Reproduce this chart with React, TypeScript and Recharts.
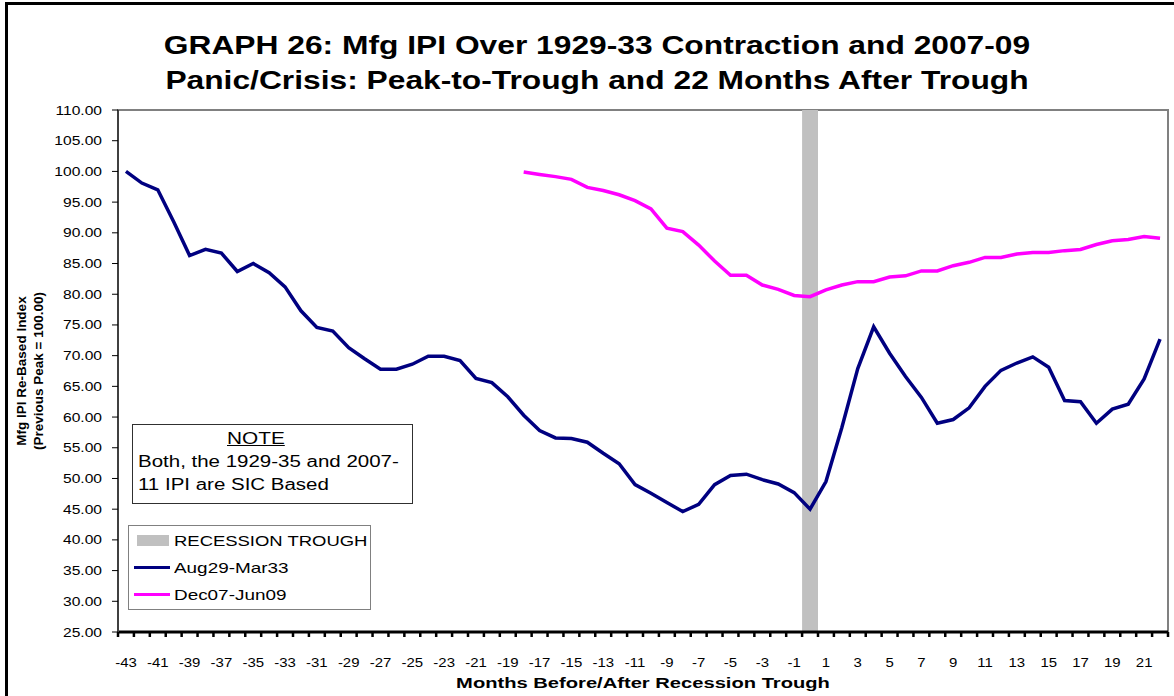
import {
  LineChart,
  Line,
  XAxis,
  YAxis,
  ReferenceArea,
  Legend,
} from "recharts";

const months = Array.from({ length: 66 }, (_, i) => i - 43);

const aug29Mar33 = [
  100.0, 98.1, 97.0, 91.8, 86.3, 87.3, 86.7, 83.7, 85.0, 83.5, 81.2, 77.3, 74.6,
  74.0, 71.3, 69.5, 67.8, 67.8, 68.6, 69.9, 69.9, 69.2, 66.3, 65.6, 63.3, 60.3,
  57.8, 56.6, 56.5, 55.9, 54.1, 52.4, 49.0, 47.6, 46.1, 44.6, 45.8, 49.0, 50.5,
  50.7, 49.8, 49.1, 47.7, 45.0, 49.5, 58.3, 67.9, 74.7, 70.4, 66.6, 63.2, 59.0,
  59.6, 61.5, 65.0, 67.6, 68.8, 69.8, 68.1, 62.7, 62.5, 59.0, 61.3, 62.1, 66.2,
  72.7,
];

// 2007-09 series starts 18 months before the trough
const dec07Jun09 = [
  99.9, 99.5, 99.15, 98.7, 97.4, 96.9, 96.2, 95.25, 93.9, 90.75, 90.2, 88.0, 85.4,
  83.1, 83.1, 81.5, 80.8, 79.8, 79.6, 80.7, 81.5, 82.05, 82.05, 82.8, 83.0, 83.8,
  83.8, 84.65, 85.2, 86.0, 86.0, 86.55, 86.8, 86.8, 87.1, 87.3, 88.1, 88.7, 88.9,
  89.4, 89.1,
];
const dec07Start = -18;

const yTicks = [25, 30, 35, 40, 45, 50, 55, 60, 65, 70, 75, 80, 85, 90, 95, 100, 105, 110];
// labels on every other month, tick marks between months
const xLabelTicks = months.filter((m) => m % 2 !== 0 && m < 22);
const xMarkTicks = [...months.map((m) => m - 0.5), 22.5];
const xTicks = [...xMarkTicks, ...xLabelTicks].sort((a, b) => a - b);

const data = months.map((m, i) => ({
  month: m,
  old: aug29Mar33[i],
  recent: m >= dec07Start ? dec07Jun09[m - dec07Start] : null,
}));

const FONT = "Arial, 'Liberation Sans', sans-serif";

function YTick({ x, y, payload }: any) {
  return (
    <text
      transform={`translate(${x}, ${y}) scale(1.2, 1)`}
      textAnchor="end"
      dy="0.35em"
      fontSize={13}
      fontFamily={FONT}
      fill="#000"
    >
      {Number(payload.value).toFixed(2)}
    </text>
  );
}

function XTick({ x, y, payload }: any) {
  const v = payload.value;
  if (!Number.isInteger(v)) {
    return <line x1={x} y1={y} x2={x} y2={y + 5} stroke="#000" strokeWidth={2.5} />;
  }
  return (
    <text
      transform={`translate(${x}, ${y + 26}) scale(1.15, 1)`}
      textAnchor="middle"
      dy="0.71em"
      fontSize={13}
      fontFamily={FONT}
      fill="#000"
    >
      {v}
    </text>
  );
}

const wide = (k: number): React.CSSProperties => ({
  display: "inline-block",
  transform: `scaleX(${k})`,
  transformOrigin: "left center",
  whiteSpace: "nowrap",
});

function LegendBox() {
  const row: React.CSSProperties = { display: "flex", alignItems: "center", height: 27 };
  return (
    <div
      style={{
        width: 243,
        height: 85,
        border: "1.5px solid #808080",
        background: "#fff",
        fontFamily: FONT,
        fontSize: 15,
        color: "#000",
        boxSizing: "border-box",
        padding: "1px 0 0 4px",
      }}
    >
      <div style={row}>
        <span style={{ width: 32, height: 11, background: "#c0c0c0", margin: "0 5px 0 4px" }} />
        <span style={wide(1.23)}>RECESSION TROUGH</span>
      </div>
      <div style={row}>
        <span style={{ width: 36, height: 3.5, background: "#000080", margin: "0 4px 0 1px" }} />
        <span style={wide(1.26)}>Aug29-Mar33</span>
      </div>
      <div style={row}>
        <span style={{ width: 36, height: 3.5, background: "#ff00ff", margin: "0 4px 0 1px" }} />
        <span style={wide(1.26)}>Dec07-Jun09</span>
      </div>
    </div>
  );
}

export default function App() {
  return (
    <div
      style={{
        position: "absolute",
        left: 0,
        top: 0,
        width: 1174,
        height: 696,
        overflow: "hidden",
        background: "#fff",
        fontFamily: FONT,
      }}
    >
      <div
        style={{
          position: "absolute",
          left: 5,
          top: 2,
          width: 1200,
          height: 720,
          borderLeft: "3px solid #000",
          borderTop: "3px solid #000",
        }}
      />
      <div
        style={{
          position: "absolute",
          left: 0,
          top: 28,
          width: 1194,
          textAlign: "center",
          fontWeight: "bold",
          fontSize: 25,
          lineHeight: "35px",
          color: "#000",
          transform: "scaleX(1.27)",
          transformOrigin: "597px 0",
        }}
      >
        GRAPH 26: Mfg IPI Over 1929-33 Contraction and 2007-09
        <br />
        Panic/Crisis: Peak-to-Trough and 22 Months After Trough
      </div>
      <div style={{ position: "absolute", left: 0, top: 0 }}>
        <LineChart width={1174} height={696} data={data} margin={{ top: 110, right: 6, bottom: 0, left: 0 }}>
          <ReferenceArea
            x1={-43.5}
            x2={22.5}
            y1={25}
            y2={110}
            fill="none"
            stroke="#808080"
            strokeWidth={2}
            ifOverflow="visible"
          />
          <ReferenceArea x1={-0.5} x2={0.5} y1={25} y2={110} fill="#c0c0c0" fillOpacity={1} />
          <XAxis
            dataKey="month"
            type="number"
            domain={[-43.5, 22.5]}
            ticks={xTicks}
            interval={0}
            height={64}
            tickSize={0}
            tickMargin={0}
            tickLine={false}
            axisLine={{ stroke: "#000", strokeWidth: 3 }}
            tick={<XTick />}
            label={{
              content: ({ viewBox }: any) => (
                <text
                  transform={`translate(${viewBox.x + viewBox.width / 2}, ${viewBox.y + viewBox.height - 8}) scale(1.3, 1)`}
                  textAnchor="middle"
                  fontSize={15.5}
                  fontWeight="bold"
                  fontFamily={FONT}
                  fill="#000"
                >
                  Months Before/After Recession Trough
                </text>
              ),
            }}
          />
          <YAxis
            type="number"
            domain={[25, 110]}
            ticks={yTicks}
            interval={0}
            width={118}
            tick={<YTick />}
            tickSize={6}
            tickMargin={10}
            tickLine={{ stroke: "#000" }}
            axisLine={{ stroke: "#404040", strokeWidth: 2 }}
            label={{
              content: ({ viewBox }: any) => {
                const cy = viewBox.y + viewBox.height / 2;
                return (
                  <g fontFamily={FONT} fontWeight="bold" fontSize={13.5} fill="#000" textAnchor="middle">
                    <text transform={`translate(26, ${cy}) rotate(-90)`}>Mfg IPI Re-Based Index</text>
                    <text transform={`translate(43, ${cy}) rotate(-90)`}>(Previous Peak = 100.00)</text>
                  </g>
                );
              },
            }}
          />
          <Legend
            layout="vertical"
            align="center"
            verticalAlign="middle"
            content={() => <LegendBox />}
            wrapperStyle={{ left: 128, top: 525, width: 243, height: 85 }}
          />
          <Line
            dataKey="old"
            stroke="#000080"
            strokeWidth={3.5}
            dot={false}
            isAnimationActive={false}
          />
          <Line
            dataKey="recent"
            stroke="#ff00ff"
            strokeWidth={3.5}
            dot={false}
            connectNulls={false}
            isAnimationActive={false}
          />
        </LineChart>
      </div>
      <div
        style={{
          position: "absolute",
          left: 132,
          top: 424,
          width: 281,
          height: 80,
          border: "1px solid #303030",
          background: "#fff",
          boxSizing: "border-box",
          fontSize: 16,
          color: "#000",
          padding: "2px 0 0 5px",
          lineHeight: "23px",
        }}
      >
        <div style={{ paddingLeft: 89 }}>
          <span style={{ ...wide(1.3), textDecoration: "underline" }}>NOTE</span>
        </div>
        <div>
          <span style={wide(1.28)}>Both, the 1929-35 and 2007-</span>
        </div>
        <div>
          <span style={wide(1.28)}>11 IPI are SIC Based</span>
        </div>
      </div>
    </div>
  );
}
